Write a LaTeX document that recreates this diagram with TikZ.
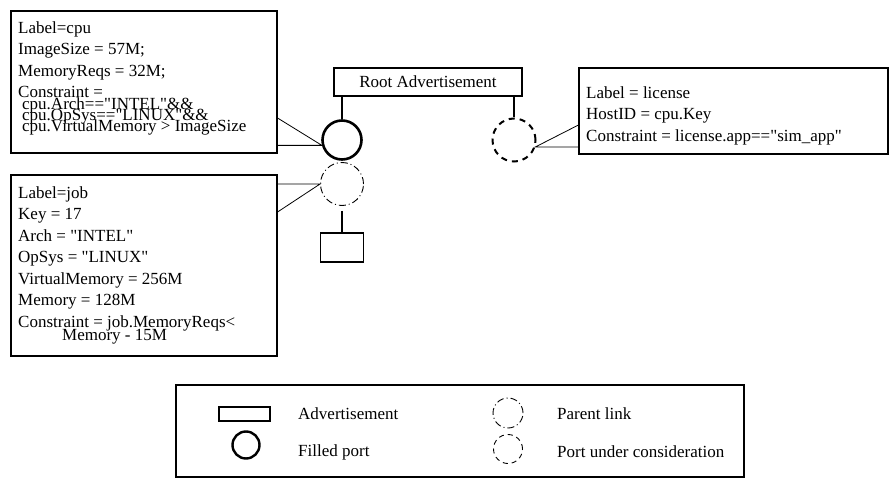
\documentclass[tikz,border=0pt]{standalone}
\usepackage{fontspec}
\setmainfont{Liberation Serif}[Ligatures=TeXOff]
\usepackage{tikz}
\lineskiplimit=-40pt

\tikzset{
  adbox/.style={draw, line width=1.1pt, inner sep=0pt},
  adtext/.style={anchor=north west, inner sep=0pt, align=left},
  keytext/.style={anchor=west, inner sep=0pt},
  filledport/.style={circle, draw, line width=2.6pt, inner sep=0pt},
  parentport/.style={circle, draw, line width=0.9pt, dash pattern=on 7pt off 3pt on 1pt off 3pt, inner sep=0pt},
  openport/.style={circle, draw, line width=2pt, dash pattern=on 6pt off 5pt, inner sep=0pt},
  stem/.style={line width=1.4pt},
  wire/.style={line width=0.8pt},
}

\begin{document}
\begin{tikzpicture}[x=1pt, y=-1pt, font=\fontsize{17}{11.3}\selectfont]
      \useasboundingbox (0,0) rectangle (891,481);

      \node[adbox, minimum width=188pt, minimum height=28pt] (root) at (428,82) {Root Advertisement};

      \node[filledport, minimum size=39pt] (cpuport) at (342,140) {};
      \node[parentport, minimum size=43pt] (jobport) at (342,184) {};
      \node[adbox, minimum width=43pt, minimum height=29pt] (jobad) at (342,247.5) {};
      \node[openport, minimum size=43pt] (licport) at (514,140) {};

      \node[adbox, minimum width=266pt, minimum height=142pt] (cpubox) at (144,82) {};
      \node[adtext] (cputext) at (18,21.5) {Label=cpu\\[10.2pt]
        ImageSize = 57M;\\[10.2pt]
        MemoryReqs = 32M;\\[10.2pt]
        Constraint =\\
        \hspace*{4pt}cpu.Arch=="INTEL"\&\&\\
        \hspace*{4pt}cpu.OpSys=="LINUX"\&\&\\
        \hspace*{4pt}cpu.VirtualMemory > ImageSize};

      \node[adbox, minimum width=266pt, minimum height=181pt] (jobbox) at (144,265.5) {};
      \node[adtext] (jobtext) at (18,186.5) {Label=job\\[10.2pt]
        Key = 17\\[10.2pt]
        Arch = "INTEL"\\[10.2pt]
        OpSys = "LINUX"\\[10.2pt]
        VirtualMemory = 256M\\[10.2pt]
        Memory = 128M\\[10.2pt]
        Constraint = job.MemoryReqs<\\[1.7pt]
        \hspace*{44pt}Memory - 15M};

      \node[adbox, minimum width=309pt, minimum height=86pt] (licbox) at (733.5,111) {};
      \node[adtext] (lictext) at (586,86.5) {Label = license\\[10.2pt]
        HostID = cpu.Key\\[10.2pt]
        Constraint = license.app=="sim\_app"};

      \draw[stem] (root.south -| cpuport) -- (cpuport);
      \draw[stem] (root.south -| licport) -- (licport);
      \draw[stem, shorten <=5pt] (jobport) -- (jobad);
      \draw[wire] ([yshift=-36pt]cpubox.east) -- (cpuport.195) -- (cpubox.east |- cpuport.195);
      \draw[wire] ([yshift=53.5pt]jobbox.east) -- (jobport.west) -- (jobbox.east |- jobport.west);
      \draw[wire] ([yshift=-14pt]licbox.west) -- (licport.-18) -- (licbox.west |- licport.-18);

      \node[adbox, minimum width=568pt, minimum height=92pt] (legend) at (460,431) {};
      \node[adbox, minimum width=51pt, minimum height=14pt] (keyad) at (244.5,414) {};
      \node[filledport, line width=2.4pt, minimum size=27pt] (keyfilled) at (246,445) {};
      \node[parentport, minimum size=30pt] (keyparent) at (508,413) {};
      \node[openport, line width=0.9pt, dash pattern=on 5pt off 4pt, minimum size=29pt] (keyopen) at (508,449) {};
      \node[keytext] (keyadlabel) at (298,414) {Advertisement};
      \node[keytext] (keyfilledlabel) at (298,452) {Filled port};
      \node[keytext] (keyparentlabel) at (557,414) {Parent link};
      \node[keytext] (keyopenlabel) at (557,452) {Port under consideration};
    \end{tikzpicture}
\end{document}
